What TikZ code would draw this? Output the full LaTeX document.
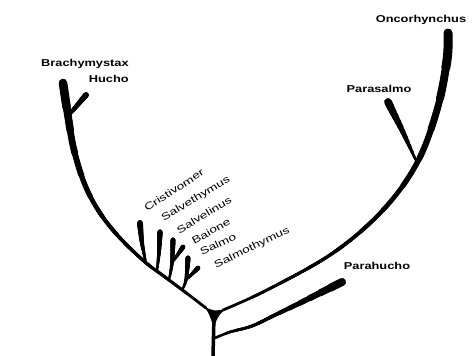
\documentclass[tikz,border=0pt]{standalone}
\usepackage{fontspec}
\setmainfont{Liberation Sans}

% a branch that thickens towards its tip:
% #1 length, #2 base width, #3 tip width, #4 exponent, #5 points
\newcommand{\limb}[5]{%
  \foreach \k in {0,...,11}{%
    \pgfmathsetmacro\lw{#2+(#3-#2)*pow(\k/11,#4)}%
    \pgfmathsetmacro\ph{2000-#1*\k/12}%
    \draw[limb, line width=\lw pt, dash pattern=on 1000pt off 1000pt, dash phase=\ph pt]
      plot[smooth, tension=0.6] coordinates {#5};}}

\begin{document}
\begin{tikzpicture}[
    x=1pt, y=-1pt,
    limb/.style={line cap=round, line join=round},
    genus/.style={font=\bfseries\fontsize{10}{12}\selectfont, inner sep=0pt, xscale=1.28},
    species/.style={font=\fontsize{10}{12}\selectfont, inner sep=0pt, xscale=1.36}
]
\useasboundingbox (0,0) rectangle (472,356);

% branch points
\coordinate (root) at (213,356);
\coordinate (fork) at (214,316);
\coordinate (forkL) at (206,308);
\coordinate (forkR) at (223,310);
\coordinate (hub) at (215,338);
\coordinate (splitHucho) at (68,116);
\coordinate (splitPara) at (417,163);
\coordinate (baseCri) at (146,263);
\coordinate (baseSvt) at (157,271);
\coordinate (baseSvl) at (169,280);
\coordinate (splitBai) at (172,263);
\coordinate (baseSal) at (182,290);
\coordinate (splitSmt) at (186,280);
\coordinate (tipBrachy) at (63,83);
\coordinate (tipHucho) at (86,95);
\coordinate (tipOnco) at (448,33);
\coordinate (tipParasalmo) at (388,102);
\coordinate (tipParahucho) at (342,282);

% trunk and junction
\draw[limb, line width=3.5] (root) -- (fork);
\fill (203,305) .. controls (210,311) and (216,312) .. (228,308)
      .. controls (219,313) and (215,320) .. (214,332)
      .. controls (212,320) and (209,312) .. (203,305) -- cycle;

% left clade
\limb{278}{2.8}{8.6}{2}{(forkL) (185,292) (165,277) (145,262) (120,238) (100,213) (85,185) (74,150) (splitHucho) (tipBrachy)}
\limb{27}{3.4}{5.6}{1}{(splitHucho) (tipHucho)}
\limb{40}{2.2}{5.8}{1}{(baseCri) (142,243) (140,223)}
\limb{38}{2.2}{5.2}{1}{(baseSvt) (159,252) (160,232)}
\limb{39}{2.2}{5}{1}{(baseSvl) (splitBai) (173,240)}
\limb{19}{2}{4.6}{1}{(splitBai) (183,247)}
\limb{32}{2.2}{5}{1}{(baseSal) (splitSmt) (188,258)}
\limb{17}{2}{4.6}{1}{(splitSmt) (198,268)}

% right clade
\limb{380}{2.8}{9}{2}{(forkR) (267,290) (333,253) (383,210) (splitPara) (437,110) (447,60) (tipOnco)}
\limb{67}{2.2}{7.6}{1}{(splitPara) (408,143) (401,128) (394,114) (tipParasalmo)}
\limb{138}{2.6}{8}{2}{(hub) (230,332) (252,326) (275,315) (300,303) (322,292) (tipParahucho)}

% labels
\node[genus, anchor=east] (brachymystax) at (129,64) {Brachymystax};
\node[genus, anchor=east] (hucho) at (129,79) {Hucho};
\node[genus] (oncorhynchus) at (421,20) {Oncorhynchus};
\node[genus] (parasalmo) at (379,89) {Parasalmo};
\node[genus] (parahucho) at (377,266) {Parahucho};
\node[rotate=33, species] (cristivomer) at (174,190) {Cristivomer};
\node[rotate=31, species] (salvethymus) at (196,199) {Salvethymus};
\node[rotate=31, species] (salvelinus) at (204,215) {Salvelinus};
\node[rotate=30, species] (baione) at (211,231) {Baione};
\node[rotate=26, species] (salmo) at (218,244) {Salmo};
\node[rotate=26, species] (salmothymus) at (252,248) {Salmothymus};
\end{tikzpicture}
\end{document}
